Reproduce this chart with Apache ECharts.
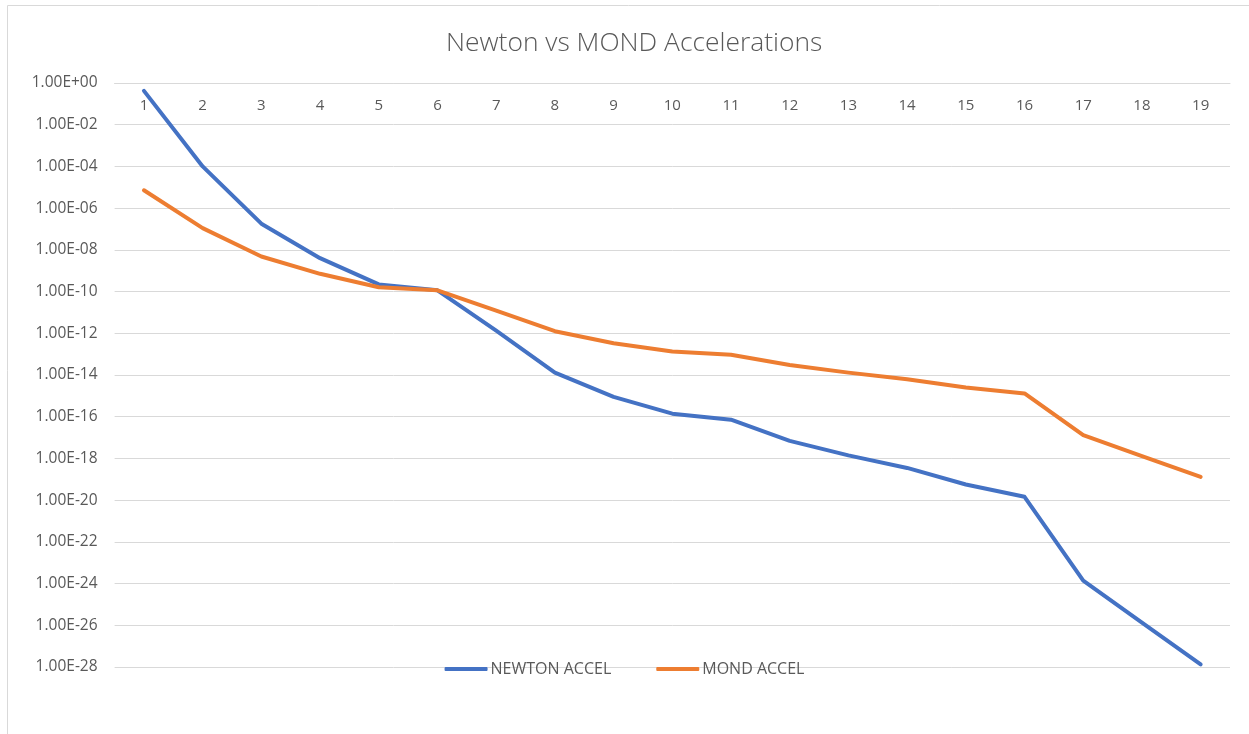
<!DOCTYPE html>
<html>
<head>
<meta charset="utf-8">
<script src="https://cdn.jsdelivr.net/npm/echarts@6/dist/echarts.min.js"></script>
<style>
  html, body { margin: 0; padding: 0; background: #fff; }
  #main { width: 1249px; height: 734px; }
</style>
</head>
<body>
<div id="main"></div>
<script>
// x categories 1..19
const categories = ["1", "2", "3", "4", "5", "6", "7", "8", "9", "10", "11", "12", "13", "14", "15", "16", "17", "18", "19"];
// values
const newtonAccel = [4.2e-1, 1.0e-4, 1.8e-7, 4.0e-9, 2.2e-10, 1.15e-10, 1.35e-12, 1.3e-14, 8.9e-16, 1.4e-16,
  7.2e-17, 6.9e-18, 1.4e-18, 3.5e-19, 5.6e-20, 1.45e-20, 1.4e-24, 1.35e-26, 1.35e-28];
const mondAccel = [7.2e-6, 1.1e-7, 4.8e-9, 7.1e-10, 1.6e-10, 1.15e-10, 1.23e-11, 1.26e-12, 3.3e-13, 1.35e-13,
  9.3e-14, 3.0e-14, 1.3e-14, 6.3e-15, 2.5e-15, 1.3e-15, 1.3e-17, 1.3e-18, 1.3e-19];
const seriesNames = ["NEWTON ACCEL", "MOND ACCEL"];
// axis range in decades (ticks every 2 decades)
const yMinExp = -28;
const yMaxExp = 0;
const yStepExp = 2;

// echarts log axis can't do 2-decade ticks, so plot log10 on a value axis
const toExp = arr => arr.map(v => Math.log10(v));

// -4 -> "1.00E-04"
function sciLabel(e) {
  e = Math.round(e);
  const sign = e < 0 ? "-" : "+";
  const abs = Math.abs(e);
  return "1.00E" + sign + (abs < 10 ? "0" + abs : abs);
}

const textColor = "#595959";
const font = "'Open Sans', sans-serif";

const myChart = echarts.init(document.getElementById("main"));
myChart.setOption({
  animation: false,
  color: ["#4472C4", "#ED7D31"],
  title: {
    text: "Newton vs MOND Accelerations",
    left: 441,
    top: 25,
    textStyle: { fontFamily: font, fontWeight: 300, fontSize: 26.4, color: textColor },
  },
  legend: {
    data: seriesNames,
    bottom: 52,
    left: "center",
    itemWidth: 43,
    itemHeight: 4,
    itemGap: 45,
    icon: "roundRect",
    textStyle: { fontFamily: font, fontSize: 16, color: textColor, padding: [0, 0, 0, -2] },
  },
  grid: {
    left: 114.6,
    right: 19,
    top: 83,
    bottom: 67,
  },
  xAxis: {
    type: "category",
    position: "top",
    data: categories,
    boundaryGap: true,
    axisLine: { show: true, lineStyle: { color: "#d9d9d9" } },
    axisTick: { show: false },
    axisLabel: { inside: true, margin: 15, fontFamily: font, fontSize: 15, color: textColor },
  },
  yAxis: {
    type: "value",
    min: yMinExp,
    max: yMaxExp,
    interval: yStepExp,
    axisLine: { show: false },
    axisTick: { show: false },
    splitLine: { lineStyle: { color: "#d9d9d9", width: 1 } },
    axisLabel: { margin: 17, fontFamily: font, fontSize: 15.5, color: textColor, formatter: sciLabel },
  },
  // light frame round the chart area like the spreadsheet one
  graphic: [{
    type: "rect",
    shape: { x: 7.5, y: 5.5, width: 1260, height: 800 },
    style: { fill: "none", stroke: "#d9d9d9", lineWidth: 1 },
  }],
  series: [
    {
      name: seriesNames[0],
      type: "line",
      data: toExp(newtonAccel),
      symbol: "none",
      lineStyle: { width: 4, cap: "round", join: "round" },
    },
    {
      name: seriesNames[1],
      type: "line",
      data: toExp(mondAccel),
      symbol: "none",
      lineStyle: { width: 4, cap: "round", join: "round" },
    },
  ],
});
</script>
</body>
</html>
